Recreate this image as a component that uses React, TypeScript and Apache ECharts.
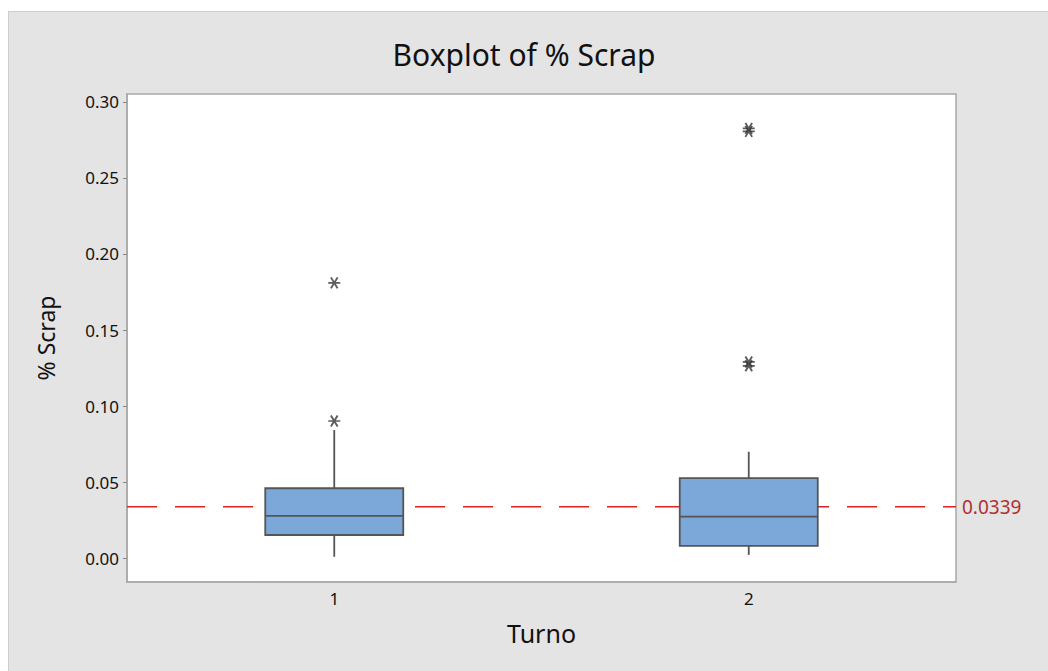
import React, { useEffect, useRef } from "react";
import * as echarts from "echarts";

const categories = ["1", "2"];
// [min whisker, Q1, median, Q3, max whisker]
const boxValues = [
  [0.001, 0.0153, 0.0278, 0.046, 0.0843],
  [0.0022, 0.0081, 0.0273, 0.0526, 0.07],
];
// outliers: [category index, value]
const outliers = [
  [0, 0.0902],
  [0, 0.181],
  [1, 0.1265],
  [1, 0.129],
  [1, 0.2805],
  [1, 0.2825],
];
const yTicks = [0, 0.05, 0.1, 0.15, 0.2, 0.25, 0.3];
const refValues = [0.0339];

const FONT = "'Noto Sans', 'Open Sans', sans-serif";
const ASTERISK = "path://M0,5L10,5M2.2,0.7L7.8,9.3M2.2,9.3L7.8,0.7";

export default function App() {
  const ref = useRef<HTMLDivElement>(null);
  useEffect(() => {
    if (!ref.current) return;
    const chart = echarts.init(ref.current, undefined, { renderer: "svg" });
    const boxData = boxValues.map((b, i) => [i, ...b]);
    chart.setOption({
      animation: false,
      backgroundColor: "transparent",
      title: {
        text: "Boxplot of % Scrap",
        left: "center",
        top: 34,
        textStyle: { fontFamily: FONT, fontSize: 30, fontWeight: "normal", color: "#111" },
      },
      grid: {
        left: 127,
        right: 92,
        top: 94,
        bottom: 89,
        show: true,
        backgroundColor: "#ffffff",
        borderColor: "#a8a8a8",
        borderWidth: 1.5,
      },
      xAxis: {
        type: "category",
        data: categories,
        name: "Turno",
        nameLocation: "middle",
        nameGap: 38,
        nameTextStyle: { fontFamily: FONT, fontSize: 25, color: "#111" },
        axisLine: { onZero: false, lineStyle: { color: "#a8a8a8", width: 1.5 } },
        axisTick: { alignWithLabel: true, length: 4, lineStyle: { color: "#888" } },
        axisLabel: { fontFamily: FONT, fontSize: 17, color: "#111", margin: 8 },
        splitLine: { show: false },
      },
      yAxis: {
        type: "value",
        min: -0.0156,
        max: 0.3051,
        name: "% Scrap",
        nameLocation: "middle",
        nameGap: 70,
        nameTextStyle: { fontFamily: FONT, fontSize: 23, color: "#111" },
        axisLine: { show: true, lineStyle: { color: "#a8a8a8", width: 1.5 } },
        axisTick: { show: true, length: 4, customValues: yTicks, lineStyle: { color: "#888" } },
        axisLabel: {
          fontFamily: FONT,
          fontSize: 17,
          color: "#111",
          margin: 8,
          customValues: yTicks,
          formatter: (v: number) => v.toFixed(2),
        },
        splitLine: { show: false },
      },
      series: [
        {
          type: "custom",
          data: refValues.map((v) => [v]),
          encode: { y: 0 },
          renderItem: (params: any, api: any) => {
            const cs = params.coordSys;
            const y = api.coord([0, api.value(0)])[1];
            return {
              type: "group",
              children: [
                {
                  type: "line",
                  shape: { x1: cs.x, y1: y, x2: cs.x + cs.width, y2: y },
                  style: { stroke: "#e02020", lineWidth: 1.6, lineDash: [30, 18] },
                },
                {
                  type: "text",
                  x: cs.x + cs.width + 6,
                  y,
                  style: {
                    text: api.value(0).toFixed(4),
                    fontFamily: FONT,
                    fontSize: 19,
                    fill: "#b03030",
                    verticalAlign: "middle",
                    align: "left",
                  },
                },
              ],
            };
          },
          z: 1,
        },
        {
          type: "custom",
          data: boxData,
          encode: { x: 0, y: [1, 2, 3, 4, 5] },
          renderItem: (params: any, api: any) => {
            const idx = api.value(0);
            const lo = api.coord([idx, api.value(1)]);
            const q1 = api.coord([idx, api.value(2)]);
            const med = api.coord([idx, api.value(3)]);
            const q3 = api.coord([idx, api.value(4)]);
            const hi = api.coord([idx, api.value(5)]);
            const half = 69;
            const cx = q1[0];
            const stroke = { stroke: "#555555", lineWidth: 1.8 };
            return {
              type: "group",
              children: [
                { type: "line", shape: { x1: cx, y1: q1[1], x2: cx, y2: lo[1] }, style: stroke },
                { type: "line", shape: { x1: cx, y1: q3[1], x2: cx, y2: hi[1] }, style: stroke },
                {
                  type: "rect",
                  shape: { x: cx - half, y: q3[1], width: half * 2, height: q1[1] - q3[1] },
                  style: { fill: "#7ba7d9", stroke: "#555555", lineWidth: 1.8 },
                },
                { type: "line", shape: { x1: cx - half, y1: med[1], x2: cx + half, y2: med[1] }, style: stroke },
              ],
            };
          },
          z: 2,
        },
        {
          type: "scatter",
          data: outliers,
          symbol: ASTERISK,
          symbolSize: [12, 11],
          itemStyle: { color: "#333", borderColor: "#333", borderWidth: 1.8 },
          z: 3,
        },
      ],
    });
    return () => chart.dispose();
  }, []);

  return (
    <div style={{ position: "fixed", left: 0, top: 0, width: 1048, height: 671, background: "#fff" }}>
      <div
        style={{
          position: "absolute",
          left: 8,
          top: 11,
          right: 0,
          bottom: 0,
          background: "#e4e4e4",
          borderLeft: "1px solid #cdcdcd",
          borderTop: "1px solid #cdcdcd",
        }}
      />
      <div ref={ref} style={{ position: "absolute", left: 0, top: 0, width: 1048, height: 671 }} />
    </div>
  );
}
